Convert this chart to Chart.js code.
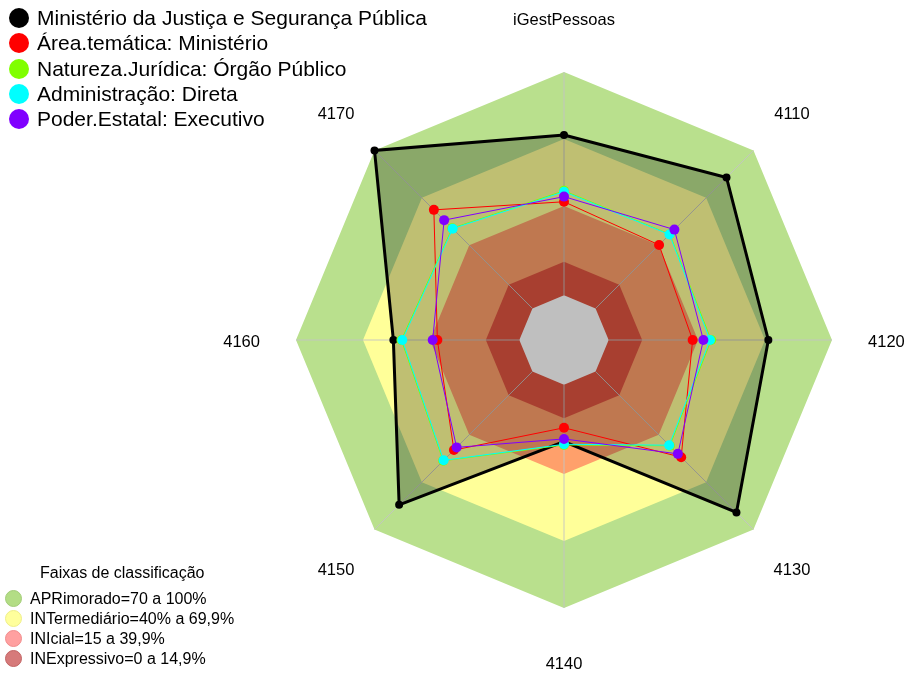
<!DOCTYPE html>
<html>
<head>
<meta charset="utf-8">
<script src="https://cdn.jsdelivr.net/npm/chart.js@4.4.1/dist/chart.umd.min.js"></script>
<style>
    body { margin: 0; background: #fff; font-family: "Liberation Sans", Arial, sans-serif; }
    #wrap { position: relative; width: 905px; height: 673px; overflow: hidden; }
    #radar { position: absolute; left: 0; top: 0; }
    .leg { position: absolute; left: 0; top: 0; color: #000; }
    .item { position: absolute; white-space: nowrap; }
    .dot { position: absolute; border-radius: 50%; }
</style>
</head>
<body>
<div id="wrap">
    <canvas id="radar" width="905" height="673"></canvas>
    <div class="leg" id="seriesLegend"></div>
    <div class="leg" id="bandLegend"></div>
</div>
<script>
// Axis labels (clockwise from the top)
const axisLabels = ["iGestPessoas", "4110", "4120", "4130", "4140", "4150", "4160", "4170"];

// Series values (%)
const ministerioJustica = [71.8, 82.9, 71.5, 89.2, 25.5, 84.4, 56.4, 100];
const areaTematica = [41.9, 40.2, 37.6, 54.2, 19.3, 49.7, 36.7, 62.4];
const naturezaJuridica = [46.8, 47.0, 45.9, 47.0, 27.0, 56.5, 52.8, 50.8];
const administracao = [46.4, 46.8, 45.4, 46.6, 26.7, 56.2, 52.4, 50.5];
const poderEstatal = [44.2, 49.9, 42.4, 52.1, 24.3, 48.0, 38.8, 55.9];

const seriesNames = [
    "Ministério da Justiça e Segurança Pública",
    "Área.temática: Ministério",
    "Natureza.Jurídica: Órgão Público",
    "Administração: Direta",
    "Poder.Estatal: Executivo",
];
const seriesColors = ["#000000", "#ff0000", "#80ff00", "#00ffff", "#8000ff"];

// Classification bands (upper limit of each band)
const bandNames = [
    "APRimorado=70 a 100%",
    "INTermediário=40% a 69,9%",
    "INIcial=15 a 39,9%",
    "INExpressivo=0 a 14,9%",
];
const bandTops = [100, 70, 40, 15];
const bandColors = ["#b9e08d", "#ffff99", "#ffa06b", "#e05540"];
const bandLegendColors = ["#b3dd85", "#ffff9c", "#ffa0a0", "#d67a7a"];
const bandLegendBorders = ["#a3cc78", "#eeee88", "#f08c8c", "#c26464"];

const scaleMin = -20;
const scaleMax = 100;

const FONT = '"Liberation Sans", Arial, sans-serif';

const constant = (v) => axisLabels.map(() => v);

const datasets = [];

// bands, drawn largest first
bandTops.forEach((top, i) => {
    datasets.push({
        data: constant(top),
        backgroundColor: bandColors[i],
        borderWidth: 0,
        pointRadius: 0,
        fill: "start",
        order: 20 - i,
    });
});
// empty centre (value 0 down to the scale minimum)
datasets.push({
    data: constant(0),
    backgroundColor: "#ffffff",
    borderWidth: 0,
    pointRadius: 0,
    fill: "start",
    order: 15,
});
const centreIndex = datasets.length - 1;

const seriesData = [ministerioJustica, areaTematica, naturezaJuridica, administracao, poderEstatal];
seriesData.forEach((vals, i) => {
    const main = i === 0;
    datasets.push({
        label: seriesNames[i],
        data: vals,
        borderColor: seriesColors[i],
        backgroundColor: main ? "rgba(0,0,0,0.25)" : "transparent",
        fill: main ? "start" : false,
        borderWidth: main ? 3 : 1,
        pointRadius: main ? 4 : 5,
        pointBorderWidth: 0,
        pointBackgroundColor: seriesColors[i],
        order: 10 - i,
    });
});

// spokes from 0 to 100, drawn over the bands
const spokesPlugin = {
    id: "spokes",
    afterDatasetDraw(chart, args) {
        if (args.index !== centreIndex) return;
        const r = chart.scales.r;
        const ctx = chart.ctx;
        ctx.save();
        ctx.strokeStyle = "rgba(195,195,195,0.9)";
        ctx.lineWidth = 1;
        axisLabels.forEach((_, i) => {
            const a = r.getPointPositionForValue(i, 0);
            const b = r.getPointPositionForValue(i, 100);
            ctx.beginPath();
            ctx.moveTo(a.x, a.y);
            ctx.lineTo(b.x, b.y);
            ctx.stroke();
        });
        ctx.restore();
    },
};

// axis labels outside the outer octagon
const labelsPlugin = {
    id: "axisText",
    afterDraw(chart) {
        const r = chart.scales.r;
        const ctx = chart.ctx;
        ctx.save();
        ctx.font = "16.5px " + FONT;
        ctx.fillStyle = "#000";
        ctx.textAlign = "center";
        ctx.textBaseline = "middle";
        axisLabels.forEach((lab, i) => {
            const p = r.getPointPosition(i, r.drawingArea * 1.203);
            ctx.fillText(lab, p.x, p.y + 2.5);
        });
        ctx.restore();
    },
};

new Chart(document.getElementById("radar"), {
    type: "radar",
    data: { labels: axisLabels, datasets: datasets },
    options: {
        responsive: false,
        animation: false,
        events: [],
        layout: { padding: { left: 296, right: 73, top: 72, bottom: 65 } },
        elements: { line: { tension: 0 } },
        plugins: {
            legend: { display: false },
            tooltip: { enabled: false },
        },
        scales: {
            r: {
                min: scaleMin,
                max: scaleMax,
                ticks: { display: false },
                grid: { display: false },
                angleLines: { display: false },
                pointLabels: { display: false },
            },
        },
    },
    plugins: [spokesPlugin, labelsPlugin],
});

// series legend (top left)
const sl = document.getElementById("seriesLegend");
seriesNames.forEach((name, i) => {
    const y = 18 + i * 25.3;
    sl.insertAdjacentHTML("beforeend",
        `<div class="dot" style="left:9px;top:${y - 10}px;width:20px;height:20px;background:${seriesColors[i]}"></div>` +
        `<div class="item" style="left:37px;top:${y - 12}px;font-size:21px;line-height:24px">${name}</div>`);
});

// band legend (bottom left)
const bl = document.getElementById("bandLegend");
bl.insertAdjacentHTML("beforeend",
    `<div class="item" style="left:40px;top:563px;font-size:16px;line-height:19px">Faixas de classificação</div>`);
bandNames.forEach((name, i) => {
    const y = 598 + i * 20.2;
    bl.insertAdjacentHTML("beforeend",
        `<div class="dot" style="left:5px;top:${y - 8.5}px;width:15px;height:15px;background:${bandLegendColors[i]};border:1px solid ${bandLegendBorders[i]}"></div>` +
        `<div class="item" style="left:30px;top:${y - 9.5}px;font-size:16px;line-height:19px">${name}</div>`);
});
</script>
</body>
</html>
